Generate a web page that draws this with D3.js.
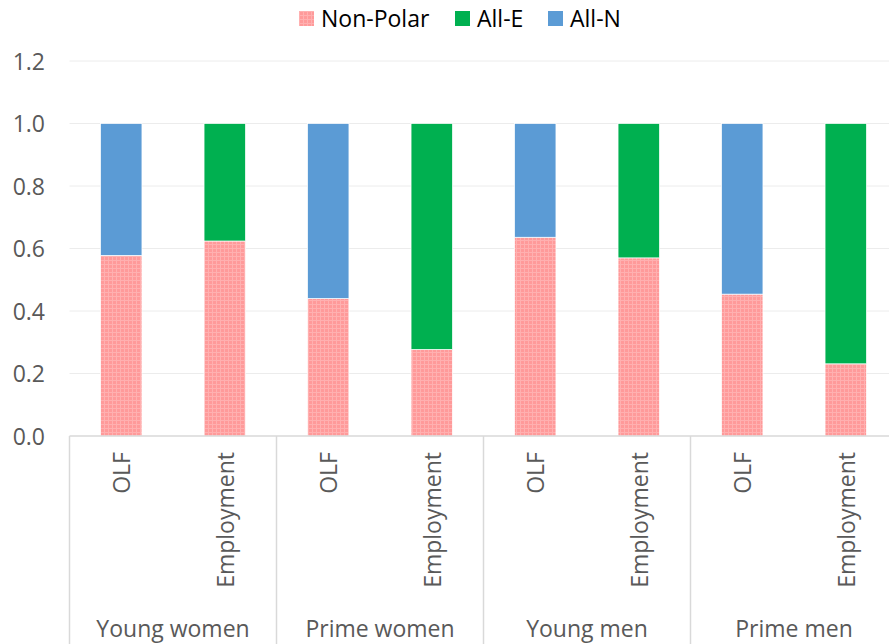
<!DOCTYPE html>
<html><head><meta charset="utf-8">
<script src="https://cdn.jsdelivr.net/npm/d3@7/dist/d3.min.js"></script>
<style>body{margin:0;background:#fff;} svg{display:block;}</style>
</head><body><svg id="c" width="889" height="644"></svg>
<script>
const groups = ["Young women","Prime women","Young men","Prime men"];
const measures = ["OLF","Employment"];
const nonPolar = [0.578, 0.624, 0.440, 0.277, 0.636, 0.570, 0.454, 0.231];
const allE = [0, 0.376, 0, 0.723, 0, 0.430, 0, 0.769];
const allN = [0.422, 0, 0.560, 0, 0.364, 0, 0.546, 0];
const yTicks = [0, 0.2, 0.4, 0.6, 0.8, 1.0, 1.2];
const seriesNames = ["Non-Polar","All-E","All-N"];

(function(){
const svg = d3.select("#c");
const font = "'Open Sans', sans-serif";
const fs = 23;
const pl = 69.5, pr = 897.5, pt = 61, pb = 436;

const cats = [];
groups.forEach(g => measures.forEach(m => cats.push(g + "|" + m)));
const x = d3.scaleBand().domain(cats).range([pl, pr]).paddingInner(0.6).paddingOuter(0.3);
const xg = d3.scaleBand().domain(groups).range([pl, pr]);
const y = d3.scaleLinear().domain([0, 1.2]).range([pb, pt]);

const defs = svg.append("defs");
const pat = defs.append("pattern").attr("id","np").attr("patternUnits","userSpaceOnUse").attr("width",4).attr("height",4);
pat.append("rect").attr("width",4).attr("height",4).attr("fill","#ff9a9a");
pat.append("rect").attr("width",4).attr("height",1).attr("fill","#ffb0b0");
pat.append("rect").attr("width",1).attr("height",4).attr("fill","#ffb0b0");

svg.append("g").selectAll("line").data(yTicks.slice(1)).join("line")
  .attr("x1", pl).attr("x2", 889).attr("y1", d => y(d)).attr("y2", d => y(d))
  .attr("stroke","#ececec").attr("stroke-width",1);

const yAxis = d3.axisLeft(y).tickValues(yTicks).tickFormat(d3.format(".1f")).tickSize(0).tickPadding(0);
const ya = svg.append("g").attr("transform","translate(45,0)").call(yAxis);
ya.select(".domain").remove();
ya.selectAll("text").attr("font-family",font).attr("font-size",fs).attr("fill","#595959").attr("dy","0.36em");

const colors = ["url(#np)","#00b050","#5b9bd5"];
const seriesVals = [nonPolar, allE, allN];
const stacked = cats.map((c,i) => {
  let base = 0; const segs = [];
  seriesVals.forEach((s,k) => { segs.push({c, k, y0: base, y1: base + s[i]}); base += s[i]; });
  return segs;
}).flat().filter(d => d.y1 > d.y0);

svg.append("g").selectAll("rect").data(stacked).join("rect")
  .attr("x", d => x(d.c)).attr("width", x.bandwidth())
  .attr("y", d => y(d.y1)).attr("height", d => y(d.y0) - y(d.y1))
  .attr("fill", d => colors[d.k]).attr("stroke","#ffffff").attr("stroke-width",0.7);

svg.append("line").attr("x1",pl).attr("x2",889).attr("y1",pb).attr("y2",pb).attr("stroke","#d9d9d9").attr("stroke-width",1.5);
const seps = groups.map(g => xg(g)).concat([pr]);
svg.append("g").selectAll("line").data(seps).join("line")
  .attr("x1", d => d).attr("x2", d => d).attr("y1", pb).attr("y2", 644)
  .attr("stroke","#d9d9d9").attr("stroke-width",1.5);

svg.append("g").selectAll("text").data(cats).join("text")
  .attr("transform", d => `translate(${x(d) + x.bandwidth()/2 + 9},452) rotate(-90)`)
  .attr("text-anchor","end").attr("font-family",font).attr("font-size",fs).attr("fill","#595959")
  .text(d => d.split("|")[1]);

svg.append("g").selectAll("text").data(groups).join("text")
  .attr("x", d => xg(d) + xg.bandwidth()/2).attr("y", 637)
  .attr("text-anchor","middle").attr("font-family",font).attr("font-size",fs).attr("fill","#595959")
  .text(d => d);

const legX = [299, 455, 548];
const lg = svg.append("g").selectAll("g").data(seriesNames).join("g")
  .attr("transform", (d,i) => `translate(${legX[i]},11)`);
lg.append("rect").attr("width",15).attr("height",15).attr("fill",(d,i) => i===0 ? "url(#np)" : colors[i]);
lg.append("text").attr("x",22).attr("y",8).attr("dy","0.36em").attr("font-family",font).attr("font-size",fs).attr("fill","#000")
  .text(d => d);
})();
</script></body></html>
